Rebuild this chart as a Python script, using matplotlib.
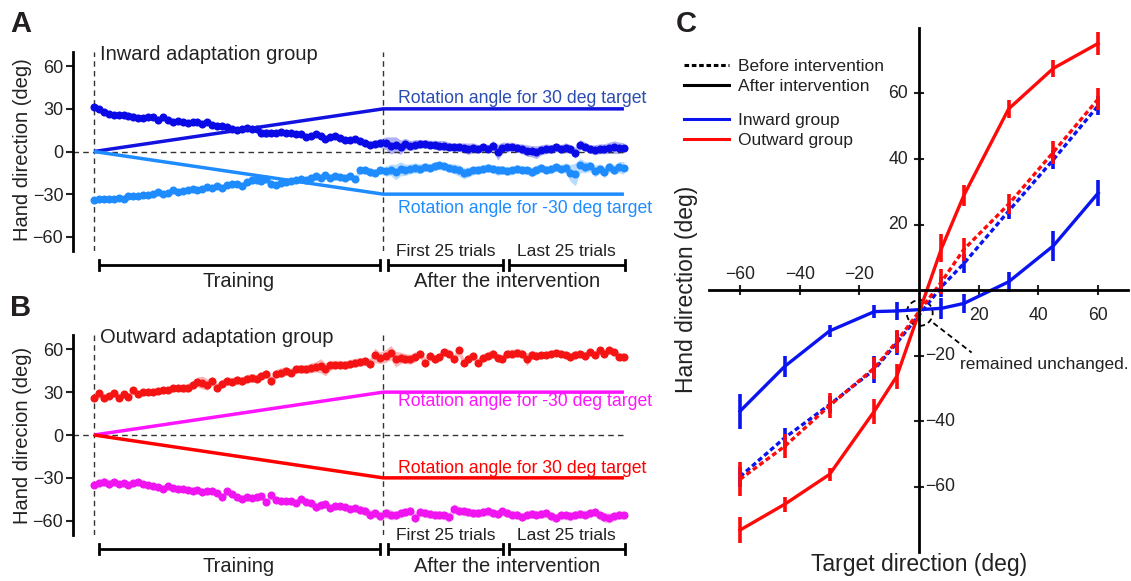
import matplotlib
matplotlib.use("Agg")
import matplotlib.pyplot as plt
import numpy as np
from matplotlib.lines import Line2D
from matplotlib.patches import Ellipse

plt.rcParams['font.family'] = ['Liberation Sans', 'DejaVu Sans']
plt.rcParams['text.color'] = '#222222'
plt.rcParams['xtick.color'] = '#222222'
plt.rcParams['ytick.color'] = '#222222'

# ---------------- panel A: inward adaptation group ----------------
inward_30_train = [31.6, 30, 27.6, 26.4, 26, 25.7, 26, 25.3, 24.6, 23.6,
                   23.6, 24, 24.6, 22.2, 24, 22.2, 20.6, 21.3, 20.6, 19.9,
                   20.6, 20.6, 19.4, 20.6, 18.9, 18.2, 18.2, 17.5, 15.9, 15.2,
                   15.9, 16.6, 15.9, 15.9, 12.9, 12.9, 13.3, 13.3, 14, 12.9,
                   12.9, 12.4, 12.4, 10, 11.2, 12.4, 11.2, 8.9, 10, 10.8,
                   9.4, 8.4, 8.2, 8.9, 7.7, 5.8, 4.9, 5.4, 5.8]
inward_30_after = [5.8, 4.2, 4.9, 3, 5.4, 4.2, 4.9, 5.4, 5.4, 4.9,
                   4.9, 4.2, 4.2, 3.5, 3, 3, 2.6, 1.9, 2.6, 1.9,
                   3, 1.9, 4.2, -0.5, 2.6, 3, 3.5, 2.6, 1.9, 0.7,
                   0.2, -0.5, 1.2, 1.9, 1.9, 3, 1.9, 2.6, 1.9, -0.9,
                   4.9, 3.5, 1.9, 1.2, 1.9, 1.9, 2.6, 3, 2.6, 2.6]
inward_m30_train = [-34.4, -33.7, -33.7, -33.2, -33.5, -32.5, -33.2, -31.6, -31.1, -31.6,
                    -30.6, -30.9, -30.2, -28.8, -29.7, -29.2, -27.4, -28.5, -27.8, -26.9,
                    -26.4, -27.4, -26.4, -25, -26, -24.1, -25.5, -23.9, -23.2, -22.7,
                    -24.1, -21.8, -20.4, -19.9, -20.8, -19.2, -22.7, -23.9, -22.2, -21.5,
                    -20.8, -20.4, -19.2, -20.4, -18.5, -17.5, -18.5, -16.8, -18.5, -17.5,
                    -18, -18.5, -17.5, -19.2, -13.3, -12.9, -14.5, -15.2, -13.3]
inward_m30_after = [-13.8, -12.9, -14.5, -12.2, -12.9, -12.2, -11.5, -12.2, -11, -11.5,
                    -10.5, -9.8, -10.5, -11.5, -12.2, -13.3, -15.2, -14.5, -13.3, -12.9,
                    -12.2, -11.5, -12.2, -13.3, -12.9, -13.8, -13.3, -12.2, -12.9, -13.3,
                    -14.5, -12.9, -11.5, -12.9, -12.2, -11, -12.2, -11.5, -15.2, -16.1,
                    -9.8, -11, -10.5, -13.8, -12.2, -14.5, -11, -12.9, -11, -11.5]
inward_30_se_train = [2.5, 2.2, 2.0, 2.0, 1.8, 1.8, 2.0, 2.2, 2.6, 2.4,
                      2.0, 1.8, 1.8, 2.0, 1.8, 1.8, 2.0, 1.8, 2.0, 2.2,
                      1.8, 2.0, 2.0, 1.8, 1.8, 2.0, 1.8, 1.8, 2.0, 2.2,
                      2.0, 1.8, 2.0, 2.4, 2.8, 3.0, 2.2, 2.0, 2.0, 1.8,
                      2.0, 1.8, 2.0, 2.2, 2.0, 1.8, 2.0, 2.4, 2.0, 2.2,
                      2.0, 2.2, 2.0, 2.4, 2.2, 2.6, 2.4, 2.8, 3.0]
inward_30_se_after = [4.5, 6.0, 5.5, 5.0, 4.0, 3.5, 3.5, 3.0, 3.0, 3.0,
                      3.0, 3.5, 3.5, 3.0, 3.0, 3.0, 3.5, 4.0, 3.5, 3.0,
                      3.0, 3.0, 3.5, 5.5, 4.0, 3.5, 3.0, 3.0, 3.5, 4.0,
                      4.0, 4.5, 3.5, 3.5, 3.0, 3.0, 3.0, 3.5, 3.0, 4.0,
                      3.5, 3.0, 3.0, 3.5, 3.5, 3.5, 4.0, 4.5, 4.0, 3.5]
inward_m30_se_train = [2.5, 2.2, 2.2, 2.0, 2.0, 2.0, 2.2, 2.0, 1.8, 2.0,
                       2.0, 1.8, 2.0, 2.0, 1.8, 2.0, 2.2, 2.0, 2.0, 2.0,
                       2.2, 2.0, 2.0, 2.0, 2.2, 2.0, 2.0, 2.2, 2.4, 2.2,
                       2.2, 2.4, 2.6, 2.8, 2.6, 2.4, 2.4, 2.4, 2.2, 2.2,
                       2.4, 2.2, 2.2, 2.4, 2.4, 2.6, 2.4, 2.2, 2.4, 2.4,
                       2.6, 2.4, 2.2, 2.4, 2.6, 2.8, 3.0, 2.8, 2.6]
inward_m30_se_after = [3.5, 4.0, 5.5, 5.0, 4.0, 3.5, 3.5, 3.5, 3.0, 3.0,
                       3.0, 3.0, 3.0, 3.0, 3.5, 4.0, 4.0, 3.5, 3.0, 3.0,
                       3.0, 3.0, 3.0, 3.5, 3.0, 3.0, 3.0, 3.0, 3.0, 3.0,
                       3.5, 3.5, 3.0, 3.0, 3.0, 3.0, 3.0, 3.5, 6.0, 8.0,
                       5.0, 4.0, 3.5, 4.0, 3.5, 4.0, 3.5, 3.5, 4.0, 4.5]

# ---------------- panel B: outward adaptation group ----------------
outward_30_train = [26, 29.1, 25.6, 27.4, 29.1, 26, 28.4, 26.7, 31.4, 28.4,
                    29.8, 30.2, 30.2, 30.7, 31.4, 31.4, 32.6, 33, 32.6, 33,
                    34.9, 37.2, 36.7, 35.3, 37.7, 33, 36, 37.7, 37.2, 38.4,
                    37.7, 39.5, 40, 39.5, 41.4, 43, 37.7, 43, 43.7, 44.7,
                    43.7, 46, 46.5, 46, 47, 47.7, 48.4, 46, 48.8, 49.3,
                    49.3, 48.8, 50, 50.7, 51.2, 51.6, 50, 55.8, 54]
outward_30_after = [55.3, 57.7, 53, 54, 53.5, 53, 54.7, 57, 50.7, 55.3,
                    53, 54.7, 58.1, 57, 53, 59.3, 50.7, 53.5, 55.3, 50.7,
                    54, 55.3, 57, 54, 53.5, 57, 57, 57.7, 57, 53,
                    56.3, 55.3, 55.8, 56.3, 57, 57.7, 57, 56.3, 54.7, 56.3,
                    57, 55.3, 58.1, 56.3, 59.3, 57, 59.3, 58.1, 54.7, 54.7]
outward_m30_train = [-34.9, -33.7, -32.6, -34.4, -32.6, -34.4, -33.7, -34.9, -33.7, -33,
                     -34.4, -35.3, -36, -36.7, -37.7, -36, -37.2, -37.7, -37.7, -38.4,
                     -39.1, -38.4, -40, -39.5, -39.1, -40.7, -43.7, -39.5, -41.4, -43.7,
                     -44.7, -43.7, -44.2, -43.7, -43, -47, -42.3, -45.3, -46, -46.5,
                     -46.5, -47.7, -44.7, -47, -47.7, -50.7, -49.3, -48.4, -51.2, -50,
                     -50, -50.7, -51.6, -51.2, -52.3, -53, -55.8, -54.7, -57]
outward_m30_after = [-54.7, -55.8, -56.3, -54.7, -54, -53, -58.1, -54, -54.7, -55.3,
                     -55.8, -55.8, -56.3, -57.7, -51.6, -53, -53.5, -54, -54.7, -54.7,
                     -54, -53.5, -54.7, -55.3, -53.5, -54.7, -55.8, -55.8, -57.7, -55.8,
                     -55.3, -55.8, -55.3, -54.7, -57, -58.1, -56.3, -56.3, -57, -55.8,
                     -55.3, -55.8, -54.7, -54, -56.3, -57.7, -58.1, -57, -55.8, -56.3]
outward_30_se_train = [3.0, 3.0, 2.5, 2.5, 2.5, 2.5, 2.5, 2.5, 2.5, 2.5,
                       2.5, 2.5, 2.5, 2.5, 2.5, 2.5, 2.5, 2.5, 2.8, 3.0,
                       3.0, 3.5, 4.5, 4.0, 3.0, 3.0, 3.0, 3.0, 3.0, 3.0,
                       3.0, 3.0, 3.0, 3.0, 3.0, 3.0, 3.5, 3.0, 3.5, 3.0,
                       3.0, 3.0, 3.0, 3.0, 3.5, 3.5, 5.0, 4.5, 3.5, 3.0,
                       3.0, 3.0, 3.0, 3.0, 3.0, 3.0, 3.5, 5.0, 4.0]
outward_30_se_after = [4.5, 5.0, 5.5, 4.0, 3.5, 3.5, 3.5, 3.0, 3.5, 3.0,
                       3.0, 3.0, 3.0, 3.0, 3.0, 3.5, 3.0, 3.0, 3.0, 3.0,
                       3.0, 3.0, 3.0, 3.0, 3.0, 3.0, 3.0, 3.0, 3.0, 4.5,
                       3.0, 3.0, 2.5, 2.5, 2.5, 2.5, 2.5, 2.5, 3.0, 3.0,
                       2.5, 3.0, 2.5, 2.5, 2.5, 2.5, 2.5, 2.5, 3.0, 3.0]
outward_m30_se_train = [2.5, 2.5, 3.0, 3.0, 2.5, 2.5, 2.5, 2.5, 2.5, 2.5,
                        2.5, 2.5, 2.5, 2.5, 2.5, 2.5, 2.5, 2.5, 2.5, 2.5,
                        2.5, 2.5, 2.5, 2.5, 2.5, 2.5, 2.5, 2.5, 2.5, 2.5,
                        2.5, 2.5, 2.5, 2.5, 2.5, 2.5, 2.5, 2.5, 2.5, 2.5,
                        2.5, 2.5, 2.5, 2.5, 2.5, 3.0, 3.0, 2.5, 2.5, 2.5,
                        2.5, 2.5, 2.5, 2.5, 3.0, 3.0, 3.5, 3.0, 3.0]
outward_m30_se_after = [3.5, 3.5, 3.0, 3.0, 3.0, 3.0, 3.5, 3.0, 3.0, 3.0,
                        3.0, 3.0, 3.0, 3.5, 3.5, 3.0, 3.0, 3.0, 3.0, 3.0,
                        3.0, 3.0, 3.0, 3.0, 3.0, 3.0, 3.0, 3.0, 3.0, 3.0,
                        3.0, 3.0, 3.0, 3.0, 3.0, 3.0, 3.0, 3.0, 3.0, 3.0,
                        3.0, 3.0, 3.0, 3.0, 3.0, 3.5, 3.5, 3.0, 3.0, 3.0]

# rotation schedule (deg): start, end of training, end of after-phase
rot_x = [0, 60, 110]
rot_pos = [0, 30, 30]
rot_neg = [0, -30, -30]

# ---------------- panel C: target vs hand direction ----------------
targets = [-60, -45, -30, -15, -7.5, 7.5, 15, 30, 45, 60]
inward_after = [-37.0, -23.3, -12.5, -6.6, -6.4, -5.6, -4.1, 2.5, 13.5, 29.6]
inward_after_se = [5.3, 3.3, 1.8, 2.0, 2.8, 3.2, 2.8, 3.0, 4.5, 4.0]
outward_after = [-73.3, -65.4, -56.3, -37.0, -26.4, 12.7, 28.9, 55.3, 67.7, 75.3]
outward_after_se = [3.9, 2.3, 2.1, 3.8, 3.7, 4.3, 3.1, 2.7, 2.6, 3.6]
inward_before = [-57.0, -45.1, -35.0, -24.3, -16.2, 1.0, 8.1, 24.1, 39.8, 56.3]
inward_before_se = [3.0, 3.0, 2.5, 4.0, 3.6, 3.0, 3.0, 2.3, 3.0, 3.0]
outward_before = [-57.8, -47.7, -35.3, -23.8, -15.7, 2.5, 12.4, 26.2, 42.1, 58.3]
outward_before_se = [5.2, 3.7, 3.7, 3.4, 3.6, 3.8, 3.4, 3.0, 3.5, 3.3]

W, H = 1131, 581
fig = plt.figure(figsize=(W / 100, H / 100), dpi=100)


def fx(px):
    return px / W


def fy(py):
    return 1 - py / H


def draw_panel(top_px, bot_px, series, rot_lines, title, ylabel, ylabel_y):
    ax = fig.add_axes([fx(73), fy(bot_px), fx(648 - 73), (bot_px - top_px) / H])
    ax.set_xlim(-4.36, 115)
    ax.set_ylim(-70, 70)
    for spine in ['top', 'right', 'bottom']:
        ax.spines[spine].set_visible(False)
    ax.spines['left'].set_linewidth(2)
    ax.set_xticks([])
    ax.set_yticks([-60, -30, 0, 30, 60])
    ax.set_yticklabels(['\u221260', '\u221230', '0', '30', '60'], fontsize=13)
    ax.tick_params(axis='y', length=5, width=1.5, pad=2)

    ax.axvline(0, color='#333333', lw=1, ls=(0, (4, 3)))
    ax.axvline(60, color='#333333', lw=1, ls=(0, (4, 3)))
    ax.plot([-4.36, 110], [0, 0], color='#333333', lw=1, ls=(0, (4, 3)))

    for tr, af, se_tr, se_af, col, band in series:
        y = np.array(tr + af)
        se = np.array(se_tr + se_af)
        x = np.concatenate([np.linspace(0, 59.3, len(tr)), np.linspace(60.6, 110, len(af))])
        ax.fill_between(x, y - se, y + se, color=band, lw=0, alpha=0.85)
        ax.plot(x, y, 'o', color=col, ms=5.8, mec='none')

    for ys, col, txt, tcol, ty in rot_lines:
        ax.plot(rot_x, ys, color=col, lw=2.5, solid_capstyle='butt')
        ax.text(63.1, ty, txt, color=tcol, fontsize=12.7, va='center', ha='left')

    ax.text(1.2, 68.5, title, fontsize=14.5, va='center', ha='left')
    fig.text(fx(22), fy(ylabel_y), ylabel, rotation=90, fontsize=14.5, va='center', ha='center')

    # brackets below the axis
    by = -80
    for x0, x1 in [(1.0, 59.3), (61.0, 84.9), (86.1, 110.2)]:
        ax.plot([x0, x1], [by, by], color='k', lw=2, clip_on=False, solid_capstyle='butt')
        for xe in (x0, x1):
            ax.plot([xe, xe], [by - 3.6, by + 3.6], color='k', lw=2, clip_on=False)
    ax.text(73, -70.7, 'First 25 trials', fontsize=12.5, ha='center', va='center')
    ax.text(98.1, -70.7, 'Last 25 trials', fontsize=12.5, ha='center', va='center')
    ax.text(30.1, -91.7, 'Training', fontsize=14.5, ha='center', va='center')
    ax.text(85.8, -91.7, 'After the intervention', fontsize=14.5, ha='center', va='center')
    return ax


draw_panel(52, 251,
           [(inward_30_train, inward_30_after, inward_30_se_train, inward_30_se_after, '#0a0ae6', '#a4a4f4'),
            (inward_m30_train, inward_m30_after, inward_m30_se_train, inward_m30_se_after, '#1e8cff', '#acd6ff')],
           [(rot_pos, '#1212e0', 'Rotation angle for 30 deg target', '#2b4cb0', 37),
            (rot_neg, '#1e8cff', 'Rotation angle for -30 deg target', '#1e8cff', -40)],
           'Inward adaptation group', 'Hand direction (deg)', 150)

draw_panel(335, 535,
           [(outward_30_train, outward_30_after, outward_30_se_train, outward_30_se_after, '#f51414', '#f7aaaa'),
            (outward_m30_train, outward_m30_after, outward_m30_se_train, outward_m30_se_after, '#f014f0', '#f6aaf6')],
           [(rot_pos, '#ff14ff', 'Rotation angle for -30 deg target', '#ff14ff', 23.2),
            (rot_neg, '#ff0000', 'Rotation angle for 30 deg target', '#ff0000', -23.3)],
           'Outward adaptation group', 'Hand direcion (deg)', 435)

# panel letters
fig.text(fx(10), fy(32), 'A', fontsize=21, fontweight='bold', color='#231f20')
fig.text(fx(10), fy(316), 'B', fontsize=21, fontweight='bold', color='#231f20')
fig.text(fx(676), fy(32), 'C', fontsize=21, fontweight='bold', color='#231f20')

# ---------------- panel C ----------------
axc = fig.add_axes([fx(709), fy(552), fx(1128 - 709), (552 - 28) / H])
axc.set_xlim(-70.4, 70)
axc.set_ylim(-80, 80)
axc.spines['left'].set_position('zero')
axc.spines['bottom'].set_position('zero')
axc.spines['top'].set_visible(False)
axc.spines['right'].set_visible(False)
axc.spines['left'].set_linewidth(2)
axc.spines['bottom'].set_linewidth(2)
ticks = [-60, -40, -20, 20, 40, 60]
axc.set_xticks(ticks)
axc.set_yticks(ticks)
axc.tick_params(direction='inout', length=7, width=1.5, labelbottom=False, labelleft=False)

for v in ticks:
    lab = ('\u2212%d' % -v) if v < 0 else str(v)
    if v < 0:
        axc.annotate(lab, (v, 0), xytext=(0, 5), textcoords='offset points',
                     ha='center', va='bottom', fontsize=12.7)
        axc.annotate(lab, (0, v), xytext=(4.5, 0), textcoords='offset points',
                     ha='left', va='center', fontsize=12.7)
    else:
        axc.annotate(lab, (v, 0), xytext=(0, -12), textcoords='offset points',
                     ha='center', va='top', fontsize=12.7)
        axc.annotate(lab, (0, v), xytext=(-8, 0), textcoords='offset points',
                     ha='right', va='center', fontsize=12.7)

dash = (0, (1.5, 0.9))
for ys, se, col, ls in [(inward_before, inward_before_se, '#0a14f0', dash),
                        (outward_before, outward_before_se, '#ff0a0a', dash),
                        (inward_after, inward_after_se, '#0a14f0', '-'),
                        (outward_after, outward_after_se, '#ff0a0a', '-')]:
    axc.plot(targets, ys, color=col, lw=2.4, ls=ls)
    axc.errorbar(targets, ys, yerr=se, fmt='none', ecolor=col, elinewidth=2.6, capsize=0)

axc.add_patch(Ellipse((0.2, -7), 8.7, 7.9, fill=False, ls=(0, (3, 2)), lw=1.3, color='k'))
axc.plot([4.8, 17.6], [-10.1, -19.1], color='k', lw=1.3, ls=(0, (3, 2)))
axc.text(13.7, -22.8, 'remained unchanged.', fontsize=12.5, ha='left', va='center', clip_on=False)

fig.text(fx(687), fy(289), 'Hand direction (deg)', rotation=90, fontsize=16.5, ha='center', va='center')
fig.text(fx(919), fy(565), 'Target direction (deg)', fontsize=16.5, ha='center', va='center')

leg1 = axc.legend([Line2D([], [], color='k', lw=2.2, ls=dash),
                   Line2D([], [], color='k', lw=2.2)],
                  ['Before intervention', 'After intervention'],
                  loc='upper left', bbox_to_anchor=(fx(684), fy(59)), bbox_transform=fig.transFigure,
                  frameon=False, fontsize=12.5, borderpad=0, borderaxespad=0,
                  handlelength=2.6, handletextpad=0.5, labelspacing=0.26)
axc.add_artist(leg1)
axc.legend([Line2D([], [], color='#0a14f0', lw=2.2),
            Line2D([], [], color='#ff0a0a', lw=2.2)],
           ['Inward group', 'Outward group'],
           loc='upper left', bbox_to_anchor=(fx(684), fy(113)), bbox_transform=fig.transFigure,
           frameon=False, fontsize=12.5, borderpad=0, borderaxespad=0,
           handlelength=2.6, handletextpad=0.5, labelspacing=0.26)

fig.savefig('out.png', dpi=100)
